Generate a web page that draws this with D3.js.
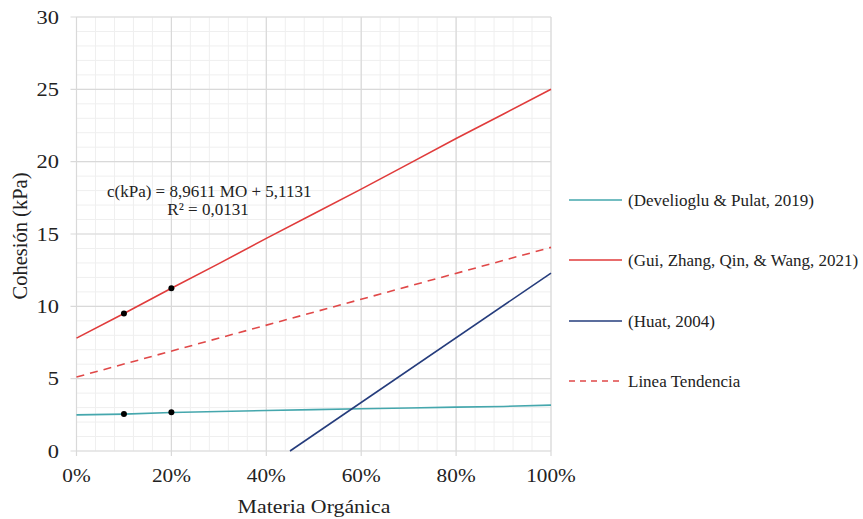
<!DOCTYPE html>
<html><head><meta charset="utf-8">
<script src="https://cdn.jsdelivr.net/npm/d3@7"></script>
<style>body{margin:0;background:#fff;}</style>
</head><body><svg id="c" width="863" height="519"></svg>
<script>
const xValues = [0, 0.1, 0.2, 0.3, 0.4, 0.5, 0.6, 0.7, 0.8, 0.9, 1.0];
const develioglu = [2.5, 2.55, 2.66, 2.73, 2.8, 2.86, 2.92, 2.97, 3.03, 3.08, 3.17];
const gui = [7.8, 9.5, 11.25, 12.95, 14.7, 16.4, 18.1, 19.85, 21.6, 23.3, 25.0];
const huatX = [0.45, 1.0];
const huat = [0, 12.3];
const trendX = [0, 1.0];
const trend = [5.1131, 14.0742];
const pointsX = [0.1, 0.2, 0.1, 0.2];
const pointsY = [9.5, 11.25, 2.56, 2.67];
const xTicks = [0, 0.2, 0.4, 0.6, 0.8, 1.0];
const yTicks = [0, 5, 10, 15, 20, 25, 30];
const legendLabels = ["(Develioglu & Pulat, 2019)", "(Gui, Zhang, Qin, & Wang, 2021)", "(Huat, 2004)", "Linea Tendencia"];
const colors = ["#45a7ad", "#e03b3b", "#253c7c", "#e04848"];

const FONT = "'Liberation Serif', 'Times New Roman', Tinos, serif";
const svg = d3.select("#c").attr("font-family", FONT);
const L = 76.5, R = 551, T = 17, B = 451;
const x = d3.scaleLinear().domain([0, 1]).range([L, R]);
const y = d3.scaleLinear().domain([0, 30]).range([B, T]);

const g = svg.append("g");
g.selectAll(".mx").data(d3.range(0, 1.0001, 0.04)).enter().append("line")
  .attr("x1", d => x(d)).attr("x2", d => x(d)).attr("y1", T).attr("y2", B)
  .attr("stroke", "#efefef").attr("stroke-width", 1);
g.selectAll(".my").data(d3.range(0, 31, 1)).enter().append("line")
  .attr("x1", L).attr("x2", R).attr("y1", d => y(d)).attr("y2", d => y(d))
  .attr("stroke", "#efefef").attr("stroke-width", 1);
g.selectAll(".Mx").data(xTicks).enter().append("line")
  .attr("x1", d => x(d)).attr("x2", d => x(d)).attr("y1", T).attr("y2", B + 5)
  .attr("stroke", "#d9d9d9").attr("stroke-width", 1.2);
g.selectAll(".My").data(yTicks).enter().append("line")
  .attr("x1", L - 6).attr("x2", R).attr("y1", d => y(d)).attr("y2", d => y(d))
  .attr("stroke", "#d9d9d9").attr("stroke-width", 1.2);

function txt(xp, yp, s, size, anchor, sx) {
  return svg.append("text")
    .attr("transform", `translate(${xp},${yp}) scale(${sx || 1},1)`)
    .attr("text-anchor", anchor || "start").attr("font-size", size)
    .attr("font-family", FONT).attr("fill", "#222").text(s);
}
yTicks.forEach(d => txt(59, y(d) + 6.5, d, 19, "end", 1.18));
xTicks.forEach(d => txt(x(d), 482, d3.format(".0%")(d), 19, "middle", 1.12));
txt(314, 513, "Materia Orgánica", 19.5, "middle", 1.12);
svg.append("text").attr("transform", "translate(27,236) rotate(-90)").attr("text-anchor", "middle")
  .attr("font-size", 20.5).attr("font-family", FONT).attr("fill", "#222").text("Cohesión (kPa)");

const line = d3.line().x(d => x(d[0])).y(d => y(d[1]));
const series = [
  {xs: xValues, ys: develioglu, c: colors[0], dash: null},
  {xs: xValues, ys: gui, c: colors[1], dash: null},
  {xs: huatX, ys: huat, c: colors[2], dash: null},
  {xs: trendX, ys: trend, c: colors[3], dash: "8,6"}
];
series.forEach(s => {
  svg.append("path").attr("d", line(s.xs.map((v, i) => [v, s.ys[i]])))
    .attr("fill", "none").attr("stroke", s.c).attr("stroke-width", 1.6)
    .attr("stroke-dasharray", s.dash);
});
svg.selectAll(".pt").data(pointsX.map((v, i) => [v, pointsY[i]])).enter().append("circle")
  .attr("cx", d => x(d[0])).attr("cy", d => y(d[1])).attr("r", 3).attr("fill", "#000");

txt(107, 197, "c(kPa) = 8,9611 MO + 5,1131", 17, "start", 1.0);
txt(208, 215, "R² = 0,0131", 17, "middle", 1.0);

const ly = [200, 260, 321, 381];
legendLabels.forEach((lab, i) => {
  svg.append("line").attr("x1", 569).attr("x2", 622).attr("y1", ly[i]).attr("y2", ly[i])
    .attr("stroke", colors[i]).attr("stroke-width", 1.6)
    .attr("stroke-dasharray", i === 3 ? "6,5" : null);
  txt(628, ly[i] + 5.5, lab, 17, "start", 1.0);
});
</script></body></html>
